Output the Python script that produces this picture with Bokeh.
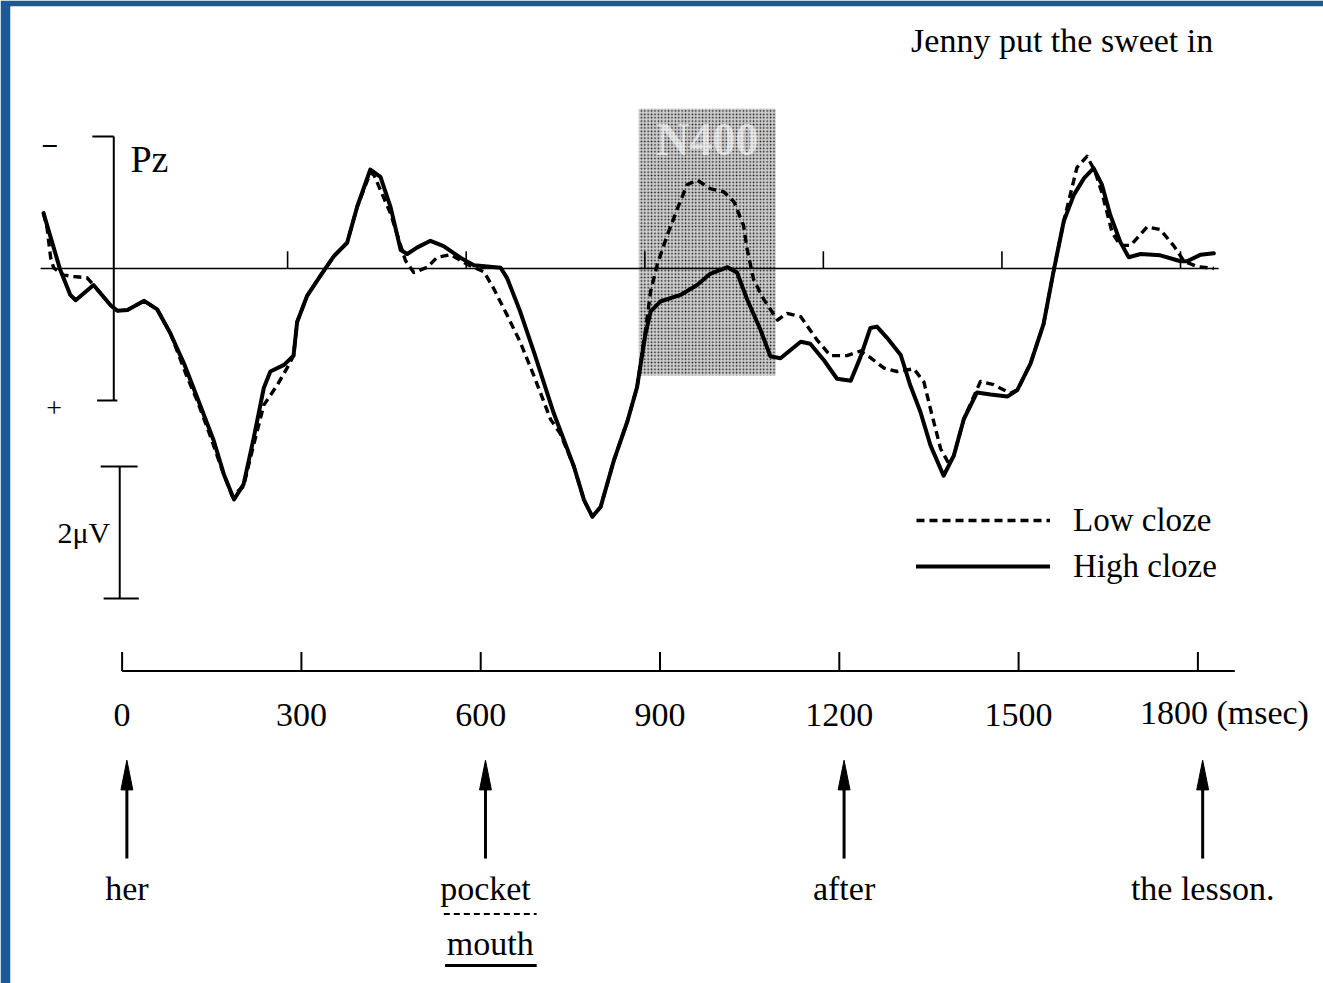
from bokeh.plotting import figure
from bokeh.models import Range1d, ColumnDataSource, Legend, LegendItem, Label
from bokeh.embed import file_html
from bokeh.resources import INLINE
from bokeh.core.properties import value

# ---------------- data (ms, microvolts; negative plotted up) ----------------
TIME_HIGH = [-110, -82, -65, -56, -26, 3, 14, 31, 59, 81,
             103, 126, 148, 176, 193, 210, 226, 243, 260, 271,
             294, 310, 316, 333, 355, 378, 400, 417, 439, 456,
             473, 490, 501, 518, 540, 562, 591, 613, 658, 669,
             691, 714, 747, 781, 798, 812, 826, 848, 871, 887,
             901, 910, 926, 960, 988, 1010, 1039, 1055, 1072, 1094,
             1111, 1128, 1162, 1178, 1201, 1223, 1246, 1262, 1279, 1290,
             1307, 1330, 1346, 1363, 1380, 1402, 1419, 1436, 1458, 1481,
             1509, 1526, 1548, 1570, 1587, 1604, 1621, 1638, 1654, 1668,
             1682, 1699, 1713, 1733, 1766, 1800, 1811, 1834, 1856]
UV_HIGH = [-0.84, 0.02, 0.40, 0.48, 0.25, 0.56, 0.64, 0.63, 0.49, 0.62,
           0.98, 1.44, 1.95, 2.61, 3.12, 3.50, 3.27, 2.57, 1.81, 1.56,
           1.46, 1.32, 0.81, 0.41, 0.11, -0.19, -0.39, -0.94, -1.50, -1.39,
           -0.93, -0.28, -0.22, -0.32, -0.42, -0.34, -0.16, -0.05, -0.01, 0.15,
           0.66, 1.27, 2.19, 3.00, 3.51, 3.76, 3.61, 2.91, 2.31, 1.80,
           1.00, 0.65, 0.50, 0.40, 0.25, 0.08, -0.02, 0.06, 0.47, 0.92,
           1.33, 1.36, 1.11, 1.14, 1.39, 1.67, 1.70, 1.35, 0.90, 0.88,
           1.05, 1.31, 1.77, 2.17, 2.68, 3.14, 2.84, 2.28, 1.88, 1.91,
           1.94, 1.84, 1.44, 0.84, 0.03, -0.72, -1.12, -1.37, -1.52, -1.27,
           -0.81, -0.40, -0.17, -0.22, -0.20, -0.11, -0.11, -0.21, -0.23]

TIME_LOW = [-110, -104, -98, -93, -76, -59, -37, -26, 3, 14,
            31, 59, 81, 103, 131, 148, 165, 190, 207, 226,
            238, 260, 283, 299, 310, 316, 333, 355, 378, 400,
            417, 439, 445, 473, 498, 512, 535, 551, 574, 602,
            630, 646, 669, 691, 714, 742, 758, 781, 798, 812,
            826, 848, 871, 887, 901, 910, 921, 938, 955, 971,
            988, 1010, 1033, 1050, 1066, 1072, 1083, 1100, 1123, 1139,
            1162, 1190, 1212, 1240, 1262, 1279, 1302, 1324, 1352, 1369,
            1380, 1397, 1411, 1419, 1436, 1464, 1486, 1514, 1526, 1548,
            1570, 1587, 1604, 1626, 1643, 1656, 1668, 1685, 1699, 1716,
            1744, 1766, 1789, 1806, 1828, 1856]
UV_LOW = [-0.84, -0.61, -0.16, -0.01, 0.10, 0.12, 0.14, 0.25, 0.56, 0.64,
          0.63, 0.49, 0.62, 0.98, 1.64, 2.00, 2.41, 3.05, 3.45, 3.30,
          2.85, 2.07, 1.76, 1.51, 1.32, 0.81, 0.41, 0.11, -0.19, -0.39,
          -0.94, -1.45, -1.42, -0.83, -0.12, 0.06, -0.02, -0.17, -0.21, -0.06,
          0.05, 0.30, 0.71, 1.12, 1.63, 2.29, 2.50, 3.00, 3.51, 3.76,
          3.61, 2.91, 2.31, 1.80, 0.95, 0.34, -0.06, -0.51, -0.91, -1.27,
          -1.34, -1.21, -1.16, -1.01, -0.65, -0.29, 0.17, 0.47, 0.78, 0.68,
          0.73, 1.09, 1.32, 1.32, 1.25, 1.35, 1.51, 1.56, 1.52, 1.72,
          2.13, 2.73, 2.96, 2.84, 2.28, 1.71, 1.76, 1.89, 1.84, 1.44,
          0.84, 0.03, -0.72, -1.53, -1.70, -1.48, -1.15, -0.55, -0.35, -0.35,
          -0.63, -0.59, -0.34, -0.11, -0.03, 0.00]

TICKS_MS = [0, 300, 600, 900, 1200, 1500, 1800]
TICK_LABELS = ["0", "300", "600", "900", "1200", "1500", "1800 (msec)"]
WORD_ONSETS = [0, 600, 1200, 1800]
WORDS = ["her", "pocket", "after", "the lesson."]
ALT_WORD = "mouth"
N400_WINDOW = [890, 1120]
SERIES_LABELS = ["Low cloze", "High cloze"]
SENTENCE = "Jenny put the sweet in"
ELECTRODE = "Pz"
SCALE_UV = 2

# ---------------- layout / style ----------------
FONT = "Liberation Serif"
INK = "black"
BLUE = "#1f5896"
AXIS_SHIFT = 22          # lower time line is drawn slightly offset (ms)
AXIS_STRETCH = 1.004     # ... and very slightly wider
AXIS_Y = 6.1             # vertical position of the lower time line (frame uV units)

p = figure(width=1323, height=983, output_backend="svg", toolbar_location=None,
           x_range=Range1d(-165.5, 2040.2), y_range=Range1d(10.833, -3.970),
           x_axis_location=None, y_axis_location=None,
           min_border=0, min_border_left=10, min_border_top=6,
           background_fill_color="white", border_fill_color=BLUE,
           outline_line_color=None)
p.grid.visible = False

# N400 shaded window
p.quad(left=N400_WINDOW[0], right=N400_WINDOW[1], top=-2.42, bottom=1.62,
       fill_color="#cdcdcd", fill_alpha=1.0, line_color=None,
       hatch_pattern="dot", hatch_color="black", hatch_scale=3.4, hatch_weight=1.7, hatch_alpha=0.9)
p.add_layout(Label(x=sum(N400_WINDOW) / 2, y=-1.95, text="N400", text_align="center",
                   text_baseline="middle", text_font=FONT, text_font_size="46px",
                   text_font_style="bold", text_color="white", text_alpha=0.6))

# baseline with ticks
t0, t1 = TIME_HIGH[0] - 5, TIME_HIGH[-1] + 8
p.segment(x0=[t0], y0=[0], x1=[t1], y1=[0], line_color=INK, line_width=1.6)
p.segment(x0=TICKS_MS[1:], y0=[0] * 6, x1=TICKS_MS[1:], y1=[-0.26] * 6,
          line_color=INK, line_width=1.6)

# waveforms
src_low = ColumnDataSource(dict(t=TIME_LOW, uv=UV_LOW))
src_high = ColumnDataSource(dict(t=TIME_HIGH, uv=UV_HIGH))
r_low = p.line("t", "uv", source=src_low, line_color=INK, line_width=3.4,
               line_dash="8 5", line_join="round")
r_high = p.line("t", "uv", source=src_high, line_color=INK, line_width=4,
                line_join="round", line_cap="round")

# electrode bracket (+/- 2 uV)
bx = 8
p.segment(x0=[bx, -28, -20], y0=[-SCALE_UV, -SCALE_UV, SCALE_UV],
          x1=[bx, bx, bx + 6], y1=[SCALE_UV, -SCALE_UV, SCALE_UV],
          line_color=INK, line_width=2)
p.add_layout(Label(x=36, y=-1.66, text=ELECTRODE, text_align="left", text_baseline="middle",
                   text_font=FONT, text_font_size="38px", text_color=INK))
p.add_layout(Label(x=-100, y=-1.85, text="\u2212", text_align="center", text_baseline="middle",
                   text_font=FONT, text_font_size="30px", text_font_style="bold", text_color=INK))
p.add_layout(Label(x=-92, y=2.12, text="+", text_align="center", text_baseline="middle",
                   text_font=FONT, text_font_size="28px", text_color=INK))

# calibration bar
sx = 18
p.segment(x0=[sx, sx - 32, sx - 27], y0=[3, 3, 3 + SCALE_UV],
          x1=[sx, sx + 30, sx + 32], y1=[3 + SCALE_UV, 3, 3 + SCALE_UV],
          line_color=INK, line_width=2)
p.add_layout(Label(x=2, y=3 + SCALE_UV / 2, text=f"{SCALE_UV}\u03bcV", text_align="right",
                   text_baseline="middle", text_font=FONT, text_font_size="30px", text_color=INK))

# lower time line
ax_ticks = [t * AXIS_STRETCH + AXIS_SHIFT for t in TICKS_MS]
p.segment(x0=[ax_ticks[0]], y0=[AXIS_Y], x1=[ax_ticks[-1] + 62], y1=[AXIS_Y],
          line_color=INK, line_width=2)
p.segment(x0=ax_ticks, y0=[AXIS_Y] * 7, x1=ax_ticks, y1=[AXIS_Y - 0.29] * 7,
          line_color=INK, line_width=2)
p.text(x=ax_ticks[:-1], y=[6.77] * 6, text=TICK_LABELS[:-1], text_align="center",
       text_baseline="middle", text_font=value(FONT), text_font_size="34px", text_color=INK)
p.text(x=[ax_ticks[-1]], y=[6.72], text=[TICK_LABELS[-1]], text_align="left", x_offset=-58,
       text_baseline="middle", text_font=value(FONT), text_font_size="34px", text_color=INK)

# word-onset arrows
ax_words = [t * AXIS_STRETCH + AXIS_SHIFT + 8 for t in WORD_ONSETS]
tip, tail, head_len, head_half = 7.45, 8.94, 0.45, 10
p.segment(x0=ax_words, y0=[tail] * 4, x1=ax_words, y1=[tip + 0.3] * 4,
          line_color=INK, line_width=3)
p.patches(xs=[[x - head_half, x, x + head_half] for x in ax_words],
          ys=[[tip + head_len, tip, tip + head_len] for _ in ax_words],
          fill_color=INK, line_color=INK, line_width=1)
p.text(x=ax_words, y=[9.40] * 4, text=WORDS, text_align="center", text_baseline="middle",
       text_font=value(FONT), text_font_size="34px", text_color=INK)
p.text(x=[ax_words[1] + 8], y=[10.23], text=[ALT_WORD], text_align="center", text_baseline="middle",
       text_font=value(FONT), text_font_size="34px", text_color=INK)
p.segment(x0=[ax_words[1] - 70], y0=[9.78], x1=[ax_words[1] + 86], y1=[9.78],
          line_color=INK, line_width=2, line_dash="6 4")
p.segment(x0=[ax_words[1] - 68], y0=[10.56], x1=[ax_words[1] + 86], y1=[10.56],
          line_color=INK, line_width=3)

# sentence frame
p.add_layout(Label(x=1855, y=-3.45, text=SENTENCE, text_align="right", text_baseline="middle",
                   text_font=FONT, text_font_size="34px", text_color=INK))

# legend
legend = Legend(items=[LegendItem(label=SERIES_LABELS[0], renderers=[r_low]),
                       LegendItem(label=SERIES_LABELS[1], renderers=[r_high])],
                location=(906, 397), border_line_color=None, background_fill_alpha=0,
                label_text_font=FONT, label_text_font_size="33px", label_text_color=INK,
                glyph_width=134, glyph_height=40, label_height=40, spacing=6,
                padding=0, margin=0, label_standoff=23)
p.add_layout(legend)

open("out.html", "w").write(file_html(p, INLINE))
